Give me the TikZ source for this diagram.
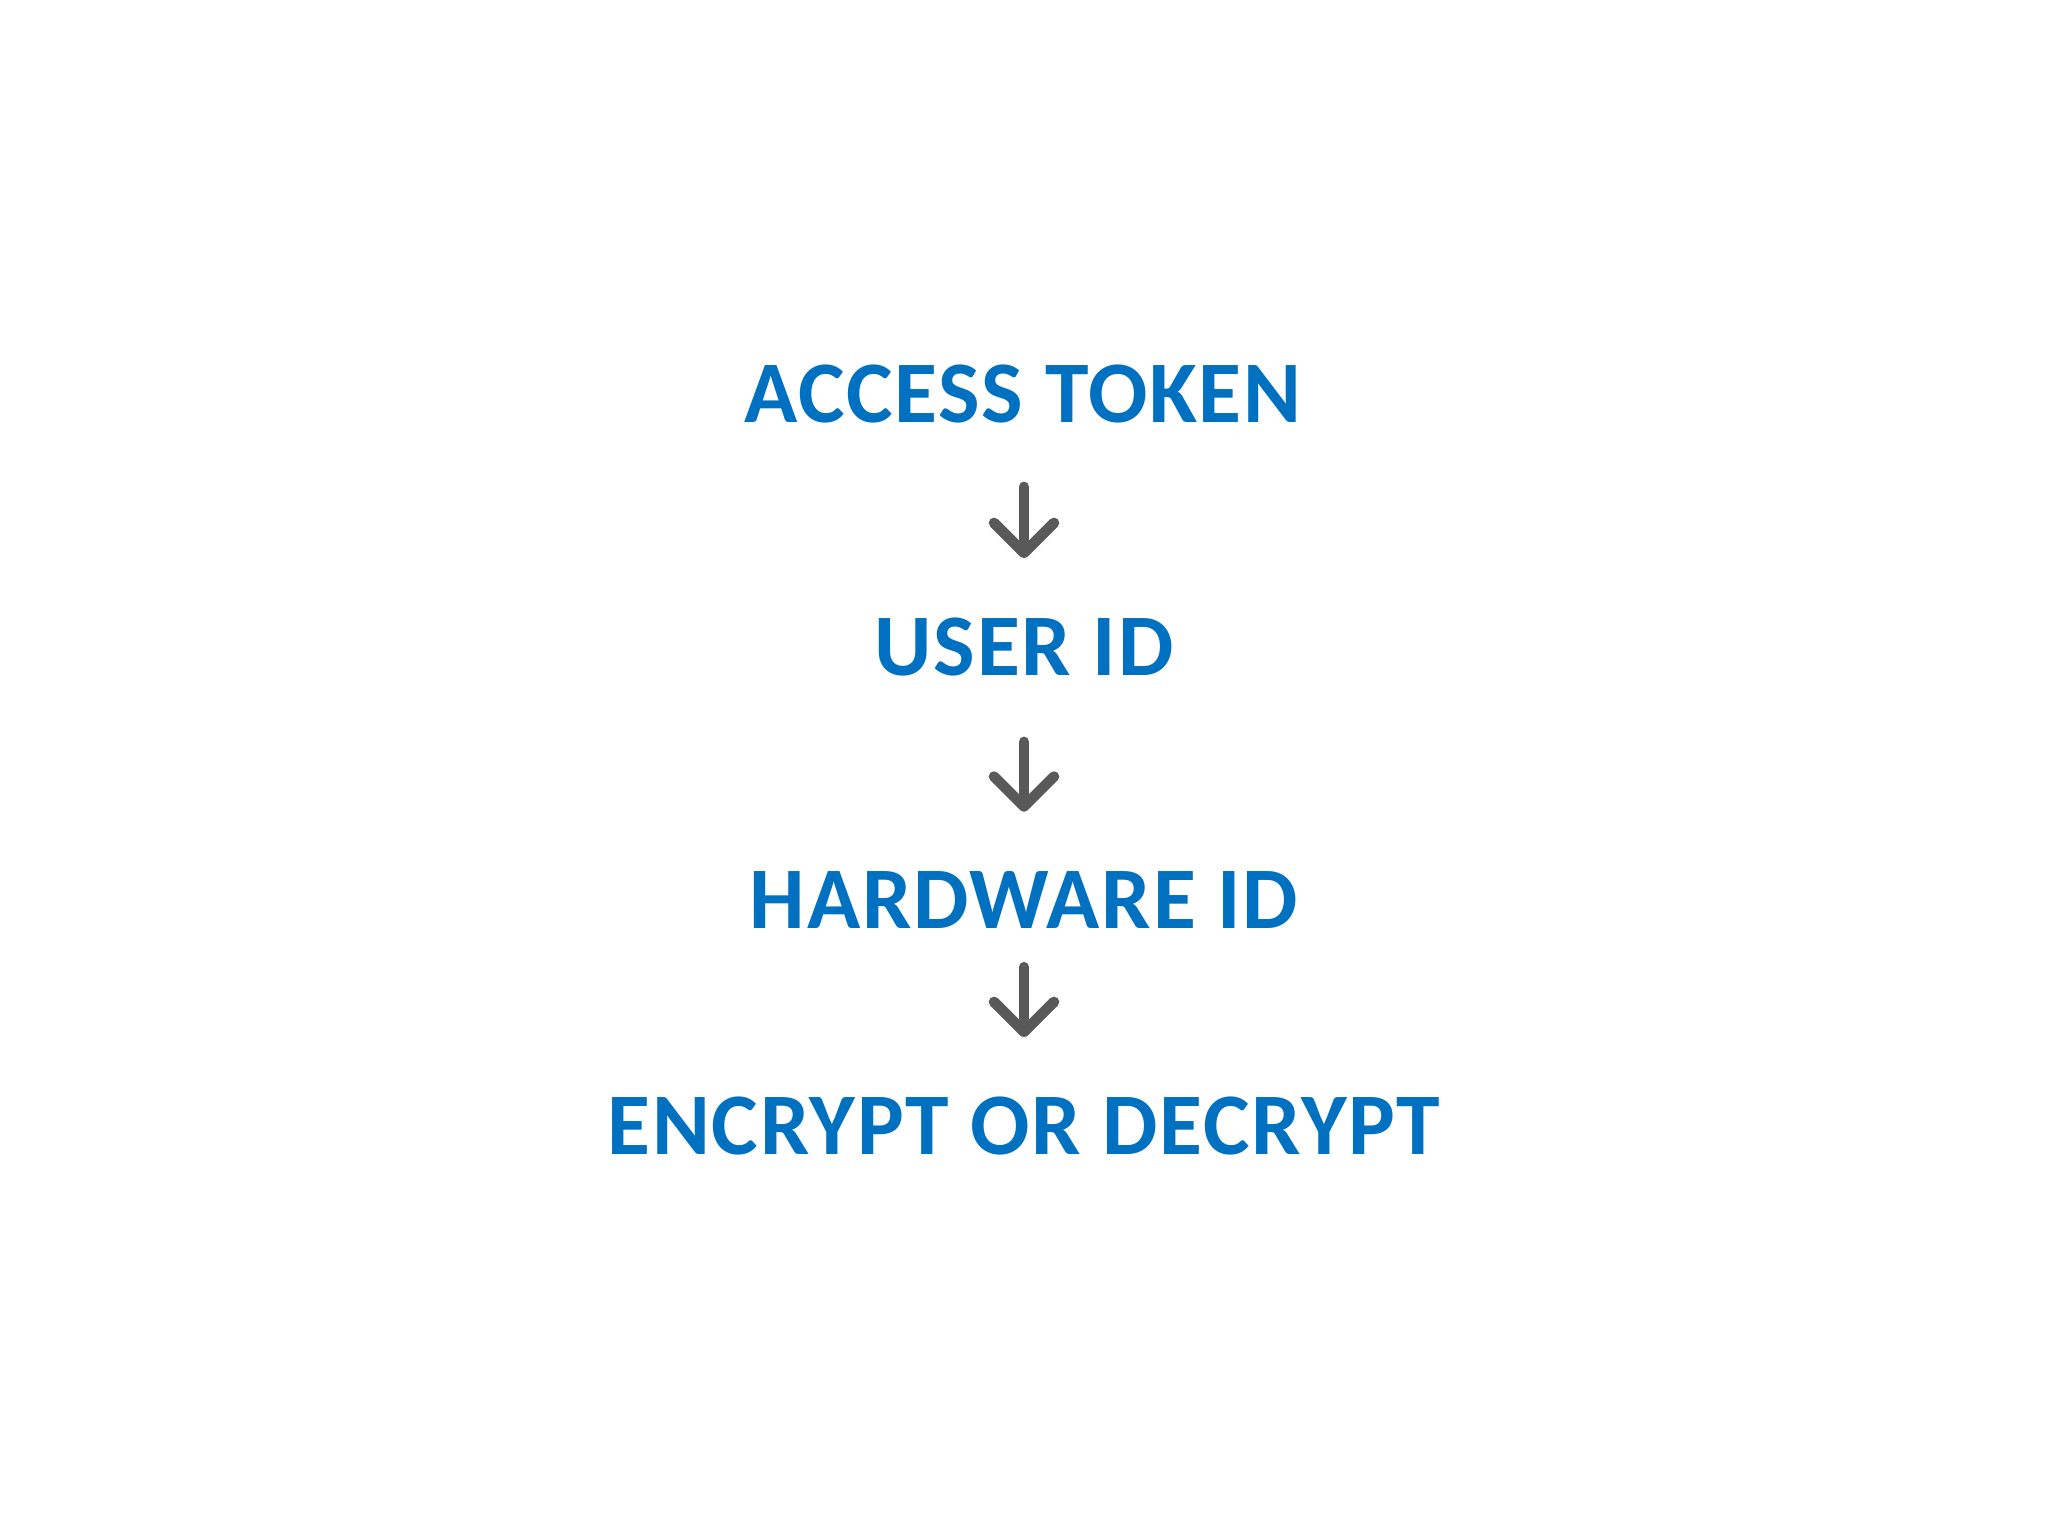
\documentclass[tikz,border=0pt]{standalone}
\usepackage{fontspec}
\setmainfont{Carlito}
\usepackage{tikz}
\usetikzlibrary{arrows.meta,positioning}

\definecolor{stepblue}{HTML}{0070C0}
\definecolor{arrowgray}{HTML}{595959}

\begin{document}
\begin{tikzpicture}[
  label/.style={inner sep=0pt,text=stepblue,
    font=\fontsize{25}{25}\selectfont\bfseries\addfontfeature{LetterSpace=2}},
  flow/.style={draw=arrowgray,line width=3pt,line cap=round,
    -{Straight Barb[length=3.0mm,width=6.0mm,round]}}
]
\useasboundingbox (0,0) rectangle (20.48,-15.36);
\node[label] (token) at (10.23,-3.94) {ACCESS TOKEN};
\node[label] (user) at (10.24,-6.47) {USER ID};
\node[label] (hw) at (10.24,-9.00) {HARDWARE ID};
\node[label] (crypt) at (10.24,-11.26) {ENCRYPT OR DECRYPT};
% arrows between the steps
\draw[flow,shorten <=6.3mm,shorten >=5.9mm] (token.south -| user) -- (user.north);
\draw[flow,shorten <=6.5mm,shorten >=5.9mm] (user.south) -- (hw.north);
\draw[flow,shorten <=3.8mm,shorten >=5.9mm] (hw.south) -- (crypt.north);
\end{tikzpicture}
\end{document}
